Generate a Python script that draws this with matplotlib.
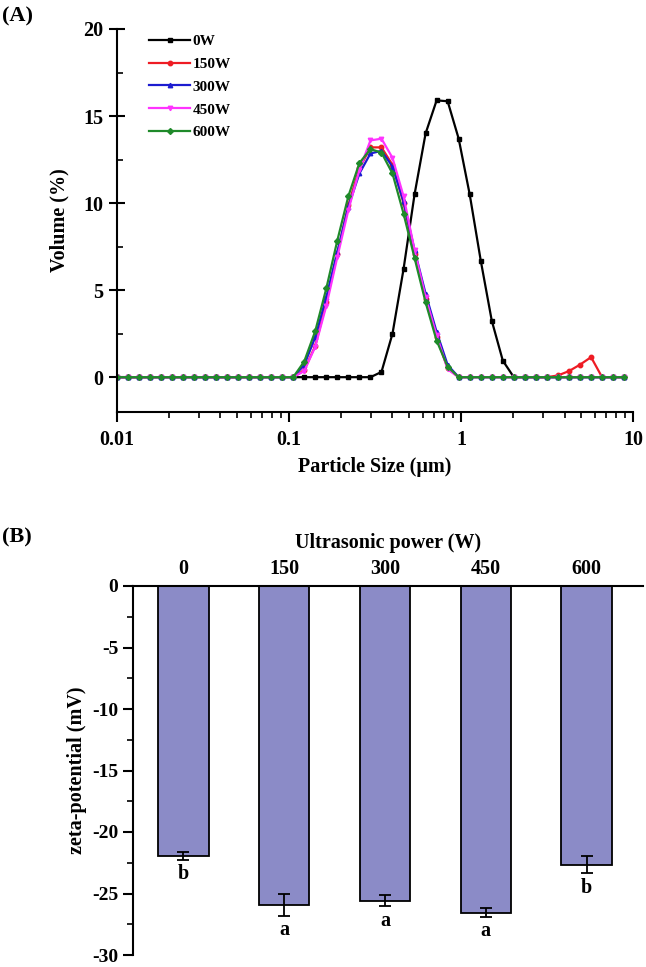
import matplotlib
matplotlib.use('Agg')
import matplotlib.pyplot as plt
import matplotlib.ticker as mticker

plt.rcParams['font.family'] = ['Liberation Serif', 'DejaVu Serif']
plt.rcParams['font.weight'] = 'bold'
plt.rcParams['axes.unicode_minus'] = False

# ---- panel A: particle size distribution ----
sizes = [0.0100, 0.01159, 0.01343, 0.01557, 0.01805, 0.02092, 0.02424, 0.02810,
         0.03257, 0.03775, 0.04375, 0.05071, 0.05877, 0.06812, 0.07895, 0.09152,
         0.1061, 0.1229, 0.1425, 0.1652, 0.1914, 0.2219, 0.2572, 0.2981,
         0.3455, 0.4004, 0.4641, 0.5379, 0.6235, 0.7227, 0.8375, 0.9707,
         1.125, 1.304, 1.511, 1.752, 2.030, 2.353, 2.728, 3.162,
         3.664, 4.247, 4.923, 5.706, 6.613, 7.665, 8.884]

vol_0w = [0, 0, 0, 0, 0, 0, 0, 0, 0, 0, 0, 0, 0, 0, 0, 0,
          0, 0, 0, 0, 0, 0, 0, 0, 0.3, 2.5, 6.2, 10.5, 14.0, 15.9, 15.85, 13.7,
          10.5, 6.7, 3.25, 0.95, 0, 0, 0, 0, 0, 0, 0, 0, 0, 0, 0]
vol_150w = [0, 0, 0, 0, 0, 0, 0, 0, 0, 0, 0, 0, 0, 0, 0, 0,
            0, 0.4, 1.8, 4.3, 7.1, 9.9, 12.0, 13.2, 13.2, 12.2, 10.0, 7.1, 4.5, 2.3, 0.5, 0,
            0, 0, 0, 0, 0, 0, 0, 0, 0.1, 0.35, 0.72, 1.15, 0, 0, 0]
vol_300w = [0, 0, 0, 0, 0, 0, 0, 0, 0, 0, 0, 0, 0, 0, 0, 0,
            0, 0.7, 2.3, 4.6, 7.2, 9.8, 11.7, 12.85, 13.0, 12.1, 10.1, 7.3, 4.8, 2.6, 0.7, 0,
            0, 0, 0, 0, 0, 0, 0, 0, 0, 0, 0, 0, 0, 0, 0]
vol_450w = [0, 0, 0, 0, 0, 0, 0, 0, 0, 0, 0, 0, 0, 0, 0, 0,
            0, 0.35, 1.75, 4.1, 6.9, 9.6, 11.9, 13.6, 13.7, 12.6, 10.4, 7.3, 4.6, 2.4, 0.45, 0,
            0, 0, 0, 0, 0, 0, 0, 0, 0, 0, 0, 0, 0, 0, 0]
vol_600w = [0, 0, 0, 0, 0, 0, 0, 0, 0, 0, 0, 0, 0, 0, 0, 0,
            0, 0.9, 2.65, 5.1, 7.85, 10.4, 12.3, 13.1, 12.9, 11.7, 9.4, 6.85, 4.3, 2.1, 0.6, 0,
            0, 0, 0, 0, 0, 0, 0, 0, 0, 0, 0, 0, 0, 0, 0]

series_labels = ['0W', '150W', '300W', '450W', '600W']

# ---- panel B: zeta potential ----
powers = ['0', '150', '300', '450', '600']
zeta = [-21.95, -25.9, -25.6, -26.55, -22.65]
zeta_err = [0.3, 0.9, 0.45, 0.35, 0.7]
letters = ['b', 'a', 'a', 'a', 'b']

W, H = 646, 967
fig = plt.figure(figsize=(W / 100, H / 100), dpi=100)

# panel A axes (pixel coords from reference)
axA = fig.add_axes([116.7 / W, 1 - 412 / H, (633 - 116.7) / W, (412 - 29) / H])
styles = [('black', 's'), ('#ee1c24', 'o'), ('#1c1cd0', '^'), ('#ff33ff', 'v'), ('#1f8a2a', 'D')]
for vals, lab, (c, m) in zip([vol_0w, vol_150w, vol_300w, vol_450w, vol_600w], series_labels, styles):
    ms = 3.2 if m != 'D' else 3.0
    axA.plot(sizes, vals, color=c, marker=m, markersize=ms, linewidth=1.6, label=lab)

axA.set_xscale('log')
axA.set_xlim(0.01, 10)
axA.set_ylim(-2, 20)
axA.xaxis.set_major_locator(mticker.FixedLocator([0.01, 0.1, 1, 10]))
axA.xaxis.set_major_formatter(mticker.FixedFormatter(['0.01', '0.1', '1', '10']))
axA.xaxis.set_minor_locator(mticker.LogLocator(base=10, subs=range(2, 10)))
axA.xaxis.set_minor_formatter(mticker.NullFormatter())
axA.yaxis.set_major_locator(mticker.MultipleLocator(5))
axA.yaxis.set_minor_locator(mticker.MultipleLocator(2.5))
axA.spines['top'].set_visible(False)
axA.spines['right'].set_visible(False)
for s in ['left', 'bottom']:
    axA.spines[s].set_linewidth(1.5)
axA.tick_params(axis='x', which='major', direction='out', length=7, width=1.5, labelsize=14.5, pad=6)
axA.tick_params(axis='x', which='minor', direction='out', length=4, width=1.2)
axA.tick_params(axis='y', which='major', direction='inout', length=12, width=1.5, labelsize=14.5)
axA.tick_params(axis='y', which='minor', direction='in', length=4, width=1.2)
axA.set_xlabel('Particle Size (μm)', fontsize=14.5, fontweight='bold', labelpad=5)
axA.set_ylabel('Volume (%)', fontsize=14.5, fontweight='bold', labelpad=10)
leg = axA.legend(loc='upper left', bbox_to_anchor=(0.045, 1.01), frameon=False,
                 fontsize=11, handlelength=2.7, handletextpad=0.15, labelspacing=0.6,
                 borderaxespad=0.2)
fig.text(2 / W, 1 - 16 / H, '(A)', fontsize=16, fontweight='bold', va='center', ha='left')

# panel B axes
axB = fig.add_axes([133 / W, 1 - 955 / H, (643 - 133) / W, (955 - 586) / H])
xpos = list(range(len(powers)))
axB.bar(xpos, zeta, width=0.5, color='#8b8bc7', edgecolor='black', linewidth=1.3)
axB.errorbar(xpos, zeta, yerr=zeta_err, fmt='none', ecolor='black', elinewidth=1.3,
             capsize=4, capthick=1.3)
for x, v, e, t in zip(xpos, zeta, zeta_err, letters):
    axB.text(x, v - e - 0.35, t, ha='center', va='top', fontsize=14.5, fontweight='bold')

axB.set_xlim(-0.5, 4.56)
axB.set_ylim(-30, 0)
axB.xaxis.tick_top()
axB.xaxis.set_label_position('top')
axB.set_xticks(xpos)
axB.set_xticklabels(powers)
axB.tick_params(axis='x', which='both', length=0, labelsize=14.5, pad=5)
axB.yaxis.set_major_locator(mticker.MultipleLocator(5))
axB.yaxis.set_minor_locator(mticker.MultipleLocator(2.5))
axB.tick_params(axis='y', which='major', direction='out', length=7, width=1.5, labelsize=14)
axB.tick_params(axis='y', which='minor', direction='out', length=4, width=1.2)
axB.spines['bottom'].set_visible(False)
axB.spines['right'].set_visible(False)
axB.spines['top'].set_linewidth(1.5)
axB.spines['left'].set_linewidth(1.5)
axB.set_xlabel('Ultrasonic power (W)', fontsize=14.5, fontweight='bold', labelpad=8)
axB.set_ylabel('zeta-potential (mV)', fontsize=14.5, fontweight='bold', labelpad=4)
fig.text(2 / W, 1 - 537 / H, '(B)', fontsize=16, fontweight='bold', va='center', ha='left')

fig.savefig('out.png', dpi=100)
